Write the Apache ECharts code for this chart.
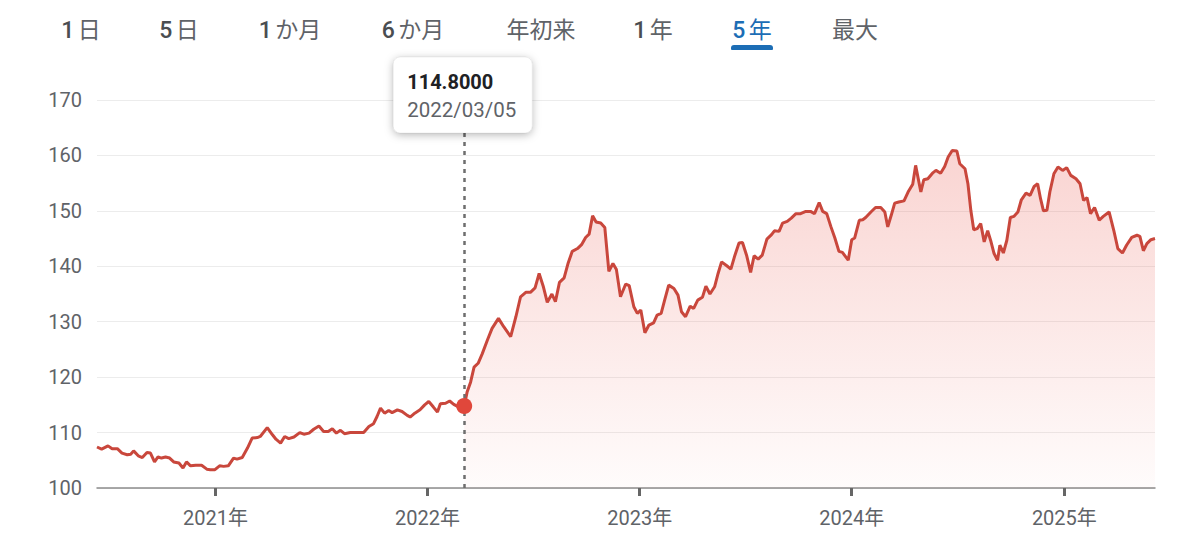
<!DOCTYPE html>
<html><head><meta charset="utf-8">
<script src="https://cdn.jsdelivr.net/npm/echarts@6/dist/echarts.min.js"></script>
<style>html,body{margin:0;padding:0;background:#fff}#c{width:1200px;height:549px}</style>
</head><body><div id="c"></div>
<script>
// ---- data ----
const dates = [
'2020-06-11','2020-06-19','2020-06-30','2020-07-07','2020-07-16','2020-07-24','2020-08-02','2020-08-08','2020-08-13','2020-08-21','2020-08-28',
'2020-09-05','2020-09-11','2020-09-18','2020-09-24','2020-09-30','2020-10-07','2020-10-14','2020-10-21','2020-10-30','2020-11-06','2020-11-12',
'2020-11-19','2020-11-28','2020-12-08','2020-12-17','2020-12-23','2020-12-31',
'2021-01-08','2021-01-15','2021-01-23','2021-02-01','2021-02-07','2021-02-16','2021-02-25','2021-03-05','2021-03-14','2021-03-19','2021-03-31',
'2021-04-09','2021-04-15','2021-04-23','2021-04-30','2021-05-07','2021-05-16','2021-05-26','2021-06-02','2021-06-11','2021-06-19','2021-06-28',
'2021-07-06','2021-07-14','2021-07-21','2021-07-28','2021-08-04','2021-08-11','2021-08-21','2021-09-02','2021-09-13','2021-09-22','2021-09-30',
'2021-10-06','2021-10-12','2021-10-19','2021-10-26','2021-11-01','2021-11-10','2021-11-18','2021-11-27','2021-12-02','2021-12-10','2021-12-19','2021-12-27',
'2022-01-03','2022-01-11','2022-01-18','2022-01-23','2022-02-01','2022-02-08','2022-02-15','2022-02-24','2022-03-05','2022-03-10','2022-03-16',
'2022-03-22','2022-03-29','2022-04-05','2022-04-14','2022-04-22','2022-05-03','2022-05-12','2022-05-24','2022-06-02','2022-06-10','2022-06-19',
'2022-06-27','2022-07-05','2022-07-12','2022-07-19','2022-07-26','2022-08-03','2022-08-09','2022-08-16','2022-08-24','2022-08-31','2022-09-07',
'2022-09-16','2022-09-23','2022-09-30','2022-10-06','2022-10-12','2022-10-18','2022-10-26','2022-11-02','2022-11-09','2022-11-16','2022-11-22',
'2022-11-29','2022-12-08','2022-12-14','2022-12-22','2022-12-28',
'2023-01-03','2023-01-10','2023-01-17','2023-01-25','2023-01-31','2023-02-07','2023-02-13','2023-02-20','2023-03-01','2023-03-08','2023-03-14',
'2023-03-21','2023-03-29','2023-04-04','2023-04-11','2023-04-19','2023-04-25','2023-05-02','2023-05-10','2023-05-16','2023-05-22','2023-05-31',
'2023-06-07','2023-06-14','2023-06-21','2023-06-27','2023-07-04','2023-07-11','2023-07-17','2023-07-24','2023-07-31','2023-08-08','2023-08-16',
'2023-08-21','2023-08-29','2023-09-04','2023-09-12','2023-09-19','2023-09-27','2023-10-05','2023-10-14','2023-10-22','2023-10-29','2023-11-06',
'2023-11-12','2023-11-19','2023-11-26','2023-12-03','2023-12-10','2023-12-16','2023-12-26',
'2024-01-01','2024-01-06','2024-01-14','2024-01-20','2024-01-25','2024-02-03','2024-02-11','2024-02-20','2024-02-27','2024-03-03','2024-03-09',
'2024-03-15','2024-03-22','2024-03-31','2024-04-07','2024-04-15','2024-04-20','2024-04-29','2024-05-04','2024-05-11','2024-05-19','2024-05-25',
'2024-06-02','2024-06-09','2024-06-15','2024-06-22','2024-06-30','2024-07-05','2024-07-14','2024-07-19','2024-07-24','2024-07-29','2024-08-04',
'2024-08-10','2024-08-16','2024-08-22','2024-08-27','2024-09-02','2024-09-08','2024-09-12','2024-09-18','2024-09-24','2024-09-30','2024-10-06',
'2024-10-13','2024-10-19','2024-10-27','2024-11-03','2024-11-10','2024-11-16','2024-11-21','2024-11-26','2024-12-02','2024-12-07','2024-12-14',
'2024-12-21','2024-12-29',
'2025-01-05','2025-01-12','2025-01-21','2025-01-28','2025-02-03','2025-02-09','2025-02-15','2025-02-22','2025-03-02','2025-03-09','2025-03-19',
'2025-03-27','2025-04-03','2025-04-11','2025-04-18','2025-04-27','2025-05-06','2025-05-11','2025-05-17','2025-05-23','2025-05-30','2025-06-06'
];
const rates = [
107.4,107.0,107.6,107.1,107.1,106.3,106.0,106.1,106.7,105.8,105.5,
106.4,106.3,104.7,105.6,105.4,105.6,105.4,104.7,104.5,103.6,104.7,
104.0,104.1,104.1,103.4,103.3,103.3,
104.0,103.9,104.0,105.4,105.2,105.5,107.2,109.0,109.1,109.3,110.9,
109.6,108.8,108.1,109.3,108.9,109.2,110.0,109.7,109.9,110.6,111.2,
110.2,110.2,110.7,109.9,110.4,109.8,110.0,110.0,110.0,111.1,111.6,
112.9,114.4,113.5,114.0,113.6,114.1,113.8,113.1,112.8,113.5,114.1,115.0,
115.6,114.6,113.7,115.2,115.3,115.7,115.1,114.6,114.8,117.3,119.1,
121.8,122.5,124.2,126.7,128.8,130.6,129.1,127.3,130.9,134.5,135.3,
135.3,136.1,138.7,136.4,133.5,135.0,133.6,137.1,137.9,140.6,142.7,
143.2,143.9,145.2,145.8,149.1,148.0,147.8,147.0,139.1,140.5,139.4,
134.5,136.8,136.5,132.7,131.5,
132.1,128.0,129.4,129.8,131.2,131.5,133.9,136.6,136.0,134.8,131.8,
130.9,132.8,132.4,133.9,134.4,136.4,135.0,136.3,138.7,140.8,140.1,
139.5,142.0,144.2,144.3,142.0,138.9,141.9,141.3,142.0,144.9,145.7,
146.4,146.3,147.8,148.1,148.7,149.5,149.5,149.9,149.9,149.5,151.5,
149.9,149.5,147.2,145.1,142.7,142.5,141.1,
144.8,145.1,148.3,148.4,148.8,149.8,150.6,150.6,149.8,147.1,149.2,
151.4,151.6,151.8,153.4,154.8,158.2,153.4,155.6,155.8,156.8,157.3,
156.8,158.0,159.7,160.9,160.8,158.5,157.6,154.9,150.1,146.6,146.8,
147.7,144.4,146.4,144.7,142.3,141.1,143.8,142.4,144.7,148.8,149.0,
149.8,152.0,153.2,152.8,154.4,154.9,152.2,150.0,150.1,153.4,156.7,
157.9,157.3,
157.8,156.4,155.8,154.9,151.9,152.4,149.5,150.6,148.3,149.0,149.8,
146.5,143.2,142.4,143.8,145.2,145.6,145.4,142.8,144.1,144.8,145.0
];
const yearTicks = ['2021-01-01','2022-01-01','2023-01-01','2024-01-01','2025-01-01'];
const tabs = ['1 日','5 日','1 か月','6 か月','年初来','1 年','5 年','最大'];
const activeTab = '5 年';
const hoverDate = '2022-03-05';
const yMin = 100, yMax = 170, yStep = 10;

// ---- chart ----
const FONT = 'Roboto, "Noto Sans CJK JP", sans-serif';
const chart = echarts.init(document.getElementById('c'), null, {renderer: 'svg'});
const toTime = d => +echarts.time.parse(d);
const times = dates.map(toTime);
const hoverIdx = dates.indexOf(hoverDate);
const hoverTime = times[hoverIdx];
const hoverValue = rates[hoverIdx];
const lineData = times.map((t, i) => [t, rates[i]]);
const areaData = lineData.slice(hoverIdx);
const tickValues = yearTicks.map(toTime);

// tab bar layout (pixel centres of each tab label)
const tabCenters = [81, 179, 290, 413, 541, 653, 752, 855];
const tabGraphics = tabs.map((t, i) => {
  const active = t === activeTab;
  const m = t.match(/^(\d)\s(.*)$/);
  const txt = m ? '{d|' + m[1] + '} {k|' + m[2] + '}' : '{k|' + t + '}';
  return {
    type: 'text', x: tabCenters[i], y: 30, z: 10,
    style: {
      text: txt, align: 'center', verticalAlign: 'middle',
      rich: {
        d: {fontFamily: FONT, fontSize: 23, fontWeight: 500, fill: active ? '#1c6db5' : '#4a4d51'},
        k: {fontFamily: FONT, fontSize: 23, fill: active ? '#1c6db5' : '#5f6368'}
      }
    }
  };
});
const activeIdx = tabs.indexOf(activeTab);
tabGraphics.push({
  type: 'rect', z: 10,
  shape: {x: tabCenters[activeIdx] - 21, y: 45, width: 42, height: 5, r: [3, 3, 1, 1]},
  style: {fill: '#1c6db5'}
});

chart.setOption({
  animation: false,
  backgroundColor: '#fff',
  grid: {left: 97, right: 45, top: 100, bottom: 61},
  xAxis: {
    type: 'value',
    min: times[0], max: times[times.length - 1],
    axisLine: {show: true, lineStyle: {color: '#8c8c8c', width: 1.5}},
    axisTick: {show: true, customValues: tickValues, length: 8, lineStyle: {color: '#666', width: 3}},
    axisLabel: {
      customValues: tickValues, margin: 20,
      color: '#5f6368', fontSize: 20, fontFamily: FONT,
      formatter: v => new Date(v).getFullYear() + '年'
    },
    splitLine: {show: false}
  },
  yAxis: {
    type: 'value', min: yMin, max: yMax, interval: yStep,
    axisLine: {show: false}, axisTick: {show: false},
    axisLabel: {color: '#5f6368', fontSize: 20, fontFamily: FONT, margin: 15},
    splitLine: {lineStyle: {color: '#ececec', width: 1}}
  },
  series: [
    {
      type: 'line', data: areaData, showSymbol: false, silent: true, z: 1,
      lineStyle: {width: 0, opacity: 0},
      areaStyle: {
        origin: 'start',
        color: new echarts.graphic.LinearGradient(0, 0, 0, 1, [
          {offset: 0, color: 'rgba(235,95,85,0.38)'},
          {offset: 1, color: 'rgba(235,95,85,0.03)'}
        ])
      }
    },
    {
      type: 'line', data: lineData, showSymbol: false, z: 3,
      lineStyle: {color: '#c9473c', width: 3},
      markLine: {
        silent: true, symbol: ['none', 'none'], label: {show: false},
        lineStyle: {color: '#6e6e6e', type: [4, 5], width: 2.5},
        data: [{xAxis: hoverTime}]
      },
      markPoint: {
        symbol: 'circle', symbolSize: 16, label: {show: false},
        itemStyle: {color: '#e0473b'},
        data: [{coord: [hoverTime, hoverValue]}]
      }
    }
  ],
  graphic: tabGraphics
});

// tooltip card anchored to the hovered point
const p = chart.convertToPixel({xAxisIndex: 0, yAxisIndex: 0}, [hoverTime, hoverValue]);
chart.setOption({
  graphic: tabGraphics.concat([{
    type: 'group', x: p[0] - 71, y: 57, z: 100, zlevel: 1,
    children: [
      {type: 'rect', z: 100, zlevel: 1, shape: {x: 0, y: 0, width: 139, height: 76, r: 7},
       style: {fill: '#fff', stroke: 'rgba(0,0,0,0.06)', lineWidth: 1,
               shadowBlur: 8, shadowOffsetY: 2, shadowColor: 'rgba(0,0,0,0.28)'}},
      {type: 'text', z: 101, zlevel: 1, x: 14, y: 25,
       style: {text: hoverValue.toFixed(4), fontFamily: FONT, fontSize: 20, fontWeight: 'bold',
                fill: '#202124', verticalAlign: 'middle'}},
      {type: 'text', z: 101, zlevel: 1, x: 14, y: 53,
       style: {text: hoverDate.replace(/-/g, '/'), fontFamily: FONT, fontSize: 20.5,
                fill: '#5f6368', verticalAlign: 'middle'}}
    ]
  }])
});
</script>
</body></html>
